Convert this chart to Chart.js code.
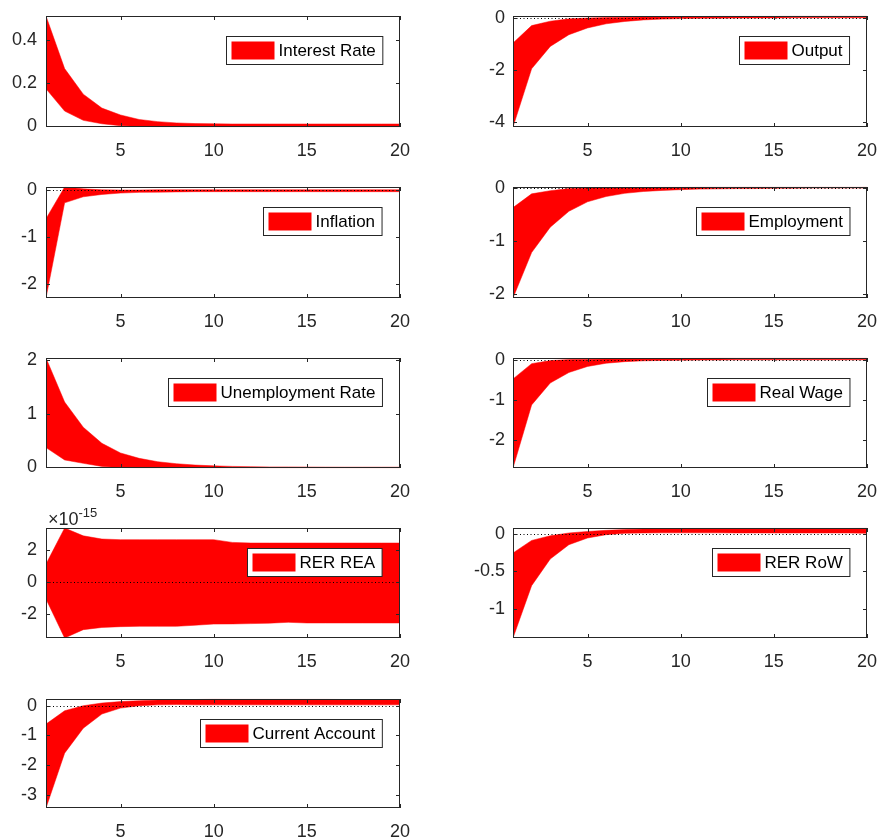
<!DOCTYPE html>
<html>
<head>
<meta charset="utf-8">
<script src="https://cdn.jsdelivr.net/npm/chart.js@4.4.1/dist/chart.umd.min.js"></script>
<style>
  body { margin: 0; background: #fff; }
  #fig { position: relative; width: 880px; height: 838px; background: #fff; overflow: hidden; }
  #fig canvas { position: absolute; }
</style>
</head>
<body>
<div id="fig"></div>
<script>
// horizon and x ticks
const periods = [1, 2, 3, 4, 5, 6, 7, 8, 9, 10, 11, 12, 13, 14, 15, 16, 17, 18, 19, 20];
const xTicks = [5, 10, 15, 20];

// bands (upper / lower bound per period)
const interestUpper = [0.511, 0.266, 0.147, 0.082, 0.05, 0.029, 0.019, 0.013, 0.01, 0.009, 0.008, 0.008, 0.008, 0.008, 0.008, 0.008, 0.008, 0.008, 0.008, 0.008];
const interestLower = [0.172, 0.068, 0.025, 0.009, 0.0, -0.003, -0.005, -0.006, -0.006, -0.006, -0.006, -0.006, -0.006, -0.006, -0.006, -0.006, -0.006, -0.006, -0.006, -0.006];
const interestTicks = [0, 0.2, 0.4];

const outputUpper = [-0.97, -0.3, -0.13, -0.04, -0.01, 0.01, 0.02, 0.03, 0.04, 0.05, 0.05, 0.06, 0.06, 0.06, 0.06, 0.07, 0.07, 0.07, 0.07, 0.07];
const outputLower = [-4.2, -1.96, -1.1, -0.65, -0.39, -0.23, -0.14, -0.08, -0.05, -0.03, -0.02, -0.015, -0.01, -0.01, -0.005, 0, 0, 0, 0, 0];
const outputTicks = [-4, -2, 0];

const inflationUpper = [-0.61, 0.07, 0.03, 0.01, 0.005, 0.005, 0.01, 0.01, 0.01, 0.01, 0.01, 0.01, 0.01, 0.01, 0.01, 0.01, 0.01, 0.01, 0.01, 0.01];
const inflationLower = [-2.31, -0.27, -0.14, -0.09, -0.06, -0.045, -0.04, -0.035, -0.03, -0.03, -0.03, -0.03, -0.03, -0.03, -0.03, -0.03, -0.03, -0.03, -0.03, -0.03];
const inflationTicks = [-2, -1, 0];

const employmentUpper = [-0.37, -0.11, -0.05, -0.01, 0.0, 0.005, 0.01, 0.01, 0.015, 0.015, 0.02, 0.02, 0.02, 0.02, 0.02, 0.02, 0.02, 0.02, 0.02, 0.02];
const employmentLower = [-2.08, -1.22, -0.74, -0.44, -0.26, -0.16, -0.1, -0.065, -0.045, -0.03, -0.02, -0.015, -0.01, -0.01, -0.005, -0.005, 0, 0, 0, 0];
const employmentTicks = [-2, -1, 0];

const unempUpper = [2.04, 1.22, 0.75, 0.45, 0.27, 0.17, 0.107, 0.07, 0.045, 0.03, 0.02, 0.015, 0.01, 0.01, 0.008, 0.006, 0.005, 0.005, 0.005, 0.005];
const unempLower = [0.37, 0.14, 0.077, 0.02, 0.0, -0.01, -0.01, -0.01, -0.01, -0.01, -0.01, -0.01, -0.01, -0.01, -0.01, -0.01, -0.01, -0.01, -0.01, -0.01];
const unempTicks = [0, 1, 2];

const wageUpper = [-0.48, -0.1, -0.025, 0.0, 0.01, 0.015, 0.02, 0.025, 0.03, 0.03, 0.035, 0.04, 0.04, 0.04, 0.04, 0.04, 0.04, 0.04, 0.04, 0.04];
const wageLower = [-2.69, -1.125, -0.58, -0.32, -0.17, -0.09, -0.05, -0.03, -0.02, -0.015, -0.01, -0.01, -0.005, -0.005, -0.005, -0.005, -0.005, -0.005, -0.005, -0.005];
const wageTicks = [-2, -1, 0];

const rerReaUpper = [1.125e-15, 3.38e-15, 2.89e-15, 2.69e-15, 2.65e-15, 2.65e-15, 2.65e-15, 2.65e-15, 2.65e-15, 2.65e-15, 2.48e-15, 2.44e-15, 2.44e-15, 2.44e-15, 2.44e-15, 2.44e-15, 2.44e-15, 2.44e-15, 2.44e-15, 2.44e-15];
const rerReaLower = [-1.06e-15, -3.5e-15, -2.98e-15, -2.84e-15, -2.79e-15, -2.77e-15, -2.77e-15, -2.77e-15, -2.7e-15, -2.63e-15, -2.62e-15, -2.6e-15, -2.57e-15, -2.52e-15, -2.56e-15, -2.56e-15, -2.56e-15, -2.56e-15, -2.56e-15, -2.56e-15];
const rerReaTicks = [-2e-15, 0, 2e-15];

const rerRowUpper = [-0.256, -0.089, -0.027, 0.01, 0.03, 0.045, 0.055, 0.062, 0.068, 0.07, 0.072, 0.072, 0.072, 0.072, 0.072, 0.072, 0.072, 0.072, 0.072, 0.076];
const rerRowLower = [-1.385, -0.69, -0.336, -0.146, -0.057, -0.013, 0.005, 0.01, 0.012, 0.012, 0.012, 0.012, 0.01, 0.01, 0.01, 0.01, 0.01, 0.01, 0.01, 0.005];
const rerRowTicks = [-1, -0.5, 0];

const caUpper = [-0.62, -0.17, 0.0, 0.09, 0.14, 0.17, 0.19, 0.2, 0.21, 0.227, 0.22, 0.22, 0.22, 0.22, 0.22, 0.22, 0.21, 0.21, 0.21, 0.2];
const caLower = [-3.45, -1.6, -0.76, -0.28, -0.08, 0.0, 0.03, 0.04, 0.03, 0.03, 0.03, 0.03, 0.03, 0.03, 0.03, 0.03, 0.03, 0.03, 0.03, 0.03];
const caTicks = [-3, -2, -1, 0];

const RED = '#ff0000';
const AXIS = '#262626';
const FONT = "'Liberation Sans', Arial, Helvetica, sans-serif";

const panels = [
  { label: 'Interest Rate', upper: interestUpper, lower: interestLower, ticks: interestTicks, col: 0, row: 0 },
  { label: 'Output', upper: outputUpper, lower: outputLower, ticks: outputTicks, col: 1, row: 0 },
  { label: 'Inflation', upper: inflationUpper, lower: inflationLower, ticks: inflationTicks, col: 0, row: 1 },
  { label: 'Employment', upper: employmentUpper, lower: employmentLower, ticks: employmentTicks, col: 1, row: 1 },
  { label: 'Unemployment Rate', upper: unempUpper, lower: unempLower, ticks: unempTicks, col: 0, row: 2 },
  { label: 'Real Wage', upper: wageUpper, lower: wageLower, ticks: wageTicks, col: 1, row: 2 },
  { label: 'RER REA', upper: rerReaUpper, lower: rerReaLower, ticks: rerReaTicks, col: 0, row: 3, exponent: -15 },
  { label: 'RER RoW', upper: rerRowUpper, lower: rerRowLower, ticks: rerRowTicks, col: 1, row: 3 },
  { label: 'Current Account', upper: caUpper, lower: caLower, ticks: caTicks, col: 0, row: 4 }
];

// subplot geometry
const colLeft = [0, 440], colWidth = [420, 440], yAxisW = [46, 73], padRight = [20, 13], yLabelPad = [9, 8];
const rowTop = [16, 187, 358, 528, 699], rowH = [111, 111, 110, 110, 109];
const PAD_TOP = 30, X_AXIS_H = 40;

// box, inward ticks, dotted zero line, legend
const frame = {
  id: 'frame',
  afterDatasetsDraw(chart, args, opts) {
    const { ctx, chartArea: a, scales: { x, y } } = chart;
    ctx.save();

    const y0 = y.getPixelForValue(0);
    if (y0 >= a.top - 0.5 && y0 <= a.bottom + 0.5) {
      const yy = Math.round(y0) + 0.5;
      ctx.setLineDash([1, 2.5]);
      ctx.strokeStyle = '#000';
      ctx.lineWidth = 1;
      ctx.beginPath();
      ctx.moveTo(a.left, yy);
      ctx.lineTo(a.right, yy);
      ctx.stroke();
      ctx.setLineDash([]);
    }

    ctx.strokeStyle = AXIS;
    ctx.lineWidth = 1;
    ctx.strokeRect(a.left + 0.5, a.top + 0.5, a.right - a.left - 1, a.bottom - a.top - 1);
    const tl = 4;
    ctx.beginPath();
    x.ticks.forEach(t => {
      const px = Math.round(x.getPixelForValue(t.value)) + 0.5;
      ctx.moveTo(px, a.bottom); ctx.lineTo(px, a.bottom - tl);
      ctx.moveTo(px, a.top); ctx.lineTo(px, a.top + tl);
    });
    y.ticks.forEach(t => {
      const py = Math.round(y.getPixelForValue(t.value)) + 0.5;
      ctx.moveTo(a.left, py); ctx.lineTo(a.left + tl, py);
      ctx.moveTo(a.right, py); ctx.lineTo(a.right - tl, py);
    });
    ctx.stroke();

    if (opts.exponent) {
      ctx.fillStyle = AXIS;
      ctx.textBaseline = 'alphabetic';
      ctx.textAlign = 'left';
      ctx.font = '18px ' + FONT;
      const base = '\u00d710';
      ctx.fillText(base, a.left + 2, a.top - 3.5);
      const w = ctx.measureText(base).width;
      ctx.font = '13px ' + FONT;
      ctx.fillText(String(opts.exponent), a.left + 2 + w, a.top - 11.5);
    }

    // legend
    ctx.font = '17px ' + FONT;
    const tw = ctx.measureText(opts.label).width;
    const bw = 5 + 43 + 4 + tw + 7, bh = 28;
    const bx = Math.round(a.right - 18 - bw) + 0.5, by = Math.round(a.top + 20) + 0.5;
    ctx.fillStyle = '#fff';
    ctx.fillRect(bx, by, bw, bh);
    ctx.strokeStyle = AXIS;
    ctx.strokeRect(bx, by, bw, bh);
    ctx.fillStyle = RED;
    ctx.fillRect(bx + 5, by + 5, 43, 18);
    ctx.fillStyle = '#000';
    ctx.textAlign = 'left';
    ctx.textBaseline = 'middle';
    ctx.fillText(opts.label, bx + 5 + 43 + 4, by + bh / 2 + 1);
    ctx.restore();
  }
};

const fig = document.getElementById('fig');
const pts = arr => periods.map((p, i) => ({ x: p, y: arr[i] }));

panels.forEach(p => {
  const c = document.createElement('canvas');
  const w = colWidth[p.col], h = PAD_TOP + rowH[p.row] + X_AXIS_H;
  c.width = w; c.height = h;
  c.style.left = colLeft[p.col] + 'px';
  c.style.top = (rowTop[p.row] - PAD_TOP) + 'px';
  fig.appendChild(c);

  const yFmt = p.exponent ? (v => String(Math.round(v / Math.pow(10, p.exponent)))) : (v => String(v));

  new Chart(c, {
    type: 'line',
    data: {
      datasets: [
        { data: pts(p.upper), borderColor: RED, borderWidth: 0.5, pointRadius: 0, fill: false, tension: 0 },
        { data: pts(p.lower), borderColor: RED, borderWidth: 0.5, pointRadius: 0, fill: '-1', backgroundColor: RED, tension: 0 }
      ]
    },
    options: {
      responsive: false,
      animation: false,
      devicePixelRatio: 1,
      layout: { autoPadding: false, padding: { top: PAD_TOP, right: padRight[p.col], left: 0, bottom: 0 } },
      scales: {
        x: {
          type: 'linear', min: 1, max: 20,
          grid: { display: false, drawTicks: true, tickLength: 13 }, border: { display: false },
          afterBuildTicks: s => { s.ticks = xTicks.map(v => ({ value: v })); },
          afterFit: s => { s.height = X_AXIS_H; },
          ticks: { padding: 0, color: AXIS, font: { family: FONT, size: 18 }, maxRotation: 0, autoSkip: false }
        },
        y: {
          type: 'linear', bounds: 'data',
          grid: { display: false, drawTicks: false }, border: { display: false },
          afterBuildTicks: s => { s.ticks = p.ticks.map(v => ({ value: v })); },
          afterFit: s => { s.width = yAxisW[p.col]; },
          ticks: { padding: yLabelPad[p.col], color: AXIS, font: { family: FONT, size: 18 }, callback: yFmt }
        }
      },
      plugins: {
        legend: { display: false },
        tooltip: { enabled: false },
        frame: { label: p.label, exponent: p.exponent }
      }
    },
    plugins: [frame]
  });
});
</script>
</body>
</html>
